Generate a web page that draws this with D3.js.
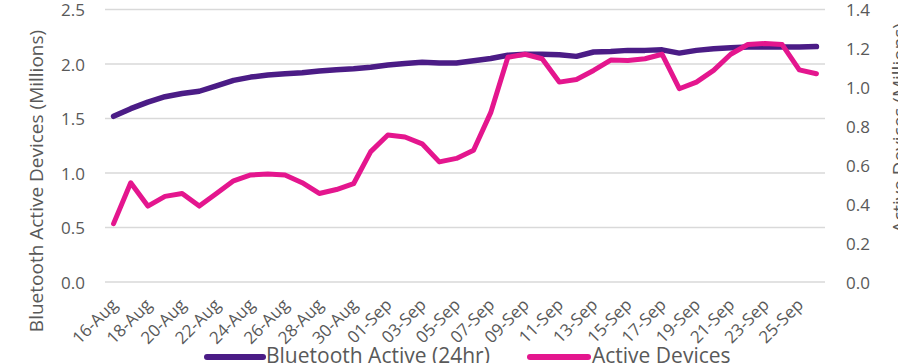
<!DOCTYPE html>
<html>
<head>
<meta charset="utf-8">
<script src="https://cdn.jsdelivr.net/npm/d3@7"></script>
<style>
  html, body { margin: 0; padding: 0; background: #fff; }
  svg { display: block; font-family: "Open Sans", sans-serif; }
</style>
</head>
<body>
<svg id="chart" width="898" height="363"></svg>
<script>
const categories = [
  "16-Aug","17-Aug","18-Aug","19-Aug","20-Aug","21-Aug","22-Aug","23-Aug","24-Aug","25-Aug",
  "26-Aug","27-Aug","28-Aug","29-Aug","30-Aug","31-Aug","01-Sep","02-Sep","03-Sep","04-Sep",
  "05-Sep","06-Sep","07-Sep","08-Sep","09-Sep","10-Sep","11-Sep","12-Sep","13-Sep","14-Sep",
  "15-Sep","16-Sep","17-Sep","18-Sep","19-Sep","20-Sep","21-Sep","22-Sep","23-Sep","24-Sep",
  "25-Sep","26-Sep"
];
const bluetoothActive = [
  1.52, 1.59, 1.65, 1.70, 1.73, 1.75, 1.80, 1.85, 1.88, 1.90,
  1.91, 1.92, 1.935, 1.948, 1.957, 1.97, 1.99, 2.005, 2.015, 2.01,
  2.01, 2.03, 2.05, 2.08, 2.09, 2.09, 2.085, 2.07, 2.11, 2.115,
  2.125, 2.125, 2.13, 2.10, 2.125, 2.14, 2.15, 2.155, 2.155, 2.155,
  2.155, 2.16
];
const activeDevices = [
  0.30, 0.51, 0.39, 0.44, 0.455, 0.39, 0.455, 0.52, 0.55, 0.555,
  0.55, 0.51, 0.455, 0.475, 0.505, 0.67, 0.755, 0.745, 0.71, 0.617,
  0.635, 0.677, 0.87, 1.155, 1.17, 1.147, 1.027, 1.04, 1.087, 1.14,
  1.138, 1.147, 1.17, 0.993, 1.027, 1.087, 1.17, 1.22, 1.225, 1.22,
  1.09, 1.07
];
const leftTicks = [0, 0.5, 1.0, 1.5, 2.0, 2.5];
const rightTicks = [0, 0.2, 0.4, 0.6, 0.8, 1.0, 1.2, 1.4];
const xTickLabels = categories.filter((d, i) => i % 2 === 0);
const seriesNames = ["Bluetooth Active (24hr)", "Active Devices"];
const leftTitle = "Bluetooth Active Devices (Millions)";
const rightTitle = "Active Devices (Millions)";

const colors = { purple: "#4b1c86", pink: "#e4168e", grid: "#d9d9d9", text: "#595959" };

const svg = d3.select("#chart");
const plot = { left: 105, right: 825, top: 9.5, bottom: 282 };

const x = d3.scaleBand().domain(categories).range([plot.left, plot.right]);
const xc = d => x(d) + x.bandwidth() / 2;
const yL = d3.scaleLinear().domain([0, 2.5]).range([plot.bottom, plot.top]);
const yR = d3.scaleLinear().domain([0, 1.4]).range([plot.bottom, plot.top]);

// gridlines
svg.append("g").selectAll("line").data(leftTicks).join("line")
  .attr("x1", plot.left).attr("x2", plot.right)
  .attr("y1", d => yL(d)).attr("y2", d => yL(d))
  .attr("stroke", colors.grid).attr("stroke-width", 1.5);

// left axis
const gL = svg.append("g").attr("transform", `translate(${plot.left},0)`)
  .call(d3.axisLeft(yL).tickValues(leftTicks).tickFormat(d3.format(".1f")).tickSize(0).tickPadding(20));
gL.select(".domain").remove();
gL.selectAll("text").attr("fill", colors.text).style("font-size", "17px").style("font-family", "Open Sans").attr("dy", "0.38em");

// right axis
const gR = svg.append("g").attr("transform", `translate(${plot.right},0)`)
  .call(d3.axisRight(yR).tickValues(rightTicks).tickFormat(d3.format(".1f")).tickSize(0).tickPadding(21));
gR.select(".domain").remove();
gR.selectAll("text").attr("fill", colors.text).style("font-size", "17px").style("font-family", "Open Sans").attr("dy", "0.38em");

// x axis
const gX = svg.append("g").attr("transform", `translate(0,${plot.bottom})`)
  .call(d3.axisBottom(x).tickValues(xTickLabels).tickSize(0));
gX.select(".domain").remove();
gX.selectAll("text")
  .attr("x", 0).attr("y", 0).attr("dy", null)
  .attr("text-anchor", "end")
  .attr("transform", "translate(5,24) rotate(-45)")
  .attr("fill", colors.text).style("font-size", "17px").style("font-family", "Open Sans");

// lines
const lineL = d3.line().x((d, i) => xc(categories[i])).y(d => yL(d));
const lineR = d3.line().x((d, i) => xc(categories[i])).y(d => yR(d));
svg.append("path").datum(bluetoothActive).attr("d", lineL)
  .attr("fill", "none").attr("stroke", colors.purple).attr("stroke-width", 5.5)
  .attr("stroke-linejoin", "round").attr("stroke-linecap", "round");
svg.append("path").datum(activeDevices).attr("d", lineR)
  .attr("fill", "none").attr("stroke", colors.pink).attr("stroke-width", 5)
  .attr("stroke-linejoin", "round").attr("stroke-linecap", "round");

// axis titles
svg.append("text").attr("transform", "translate(43,181) rotate(-90)")
  .attr("text-anchor", "middle").attr("fill", colors.text)
  .style("font-size", "19px").text(leftTitle);
svg.append("text").attr("transform", "translate(906,128) rotate(-90)")
  .attr("text-anchor", "middle").attr("fill", colors.text)
  .style("font-size", "19px").text(rightTitle);

// legend
const legend = [
  { name: seriesNames[0], color: colors.purple, x1: 207, x2: 263, tx: 266 },
  { name: seriesNames[1], color: colors.pink, x1: 530, x2: 588, tx: 592 }
];
const lg = svg.append("g");
lg.selectAll("line").data(legend).join("line")
  .attr("x1", d => d.x1).attr("x2", d => d.x2).attr("y1", 357).attr("y2", 357)
  .attr("stroke", d => d.color).attr("stroke-width", 6).attr("stroke-linecap", "round");
lg.selectAll("text").data(legend).join("text")
  .attr("x", d => d.tx).attr("y", 363).attr("fill", colors.text)
  .style("font-size", "21px").text(d => d.name);
</script>
</body>
</html>
